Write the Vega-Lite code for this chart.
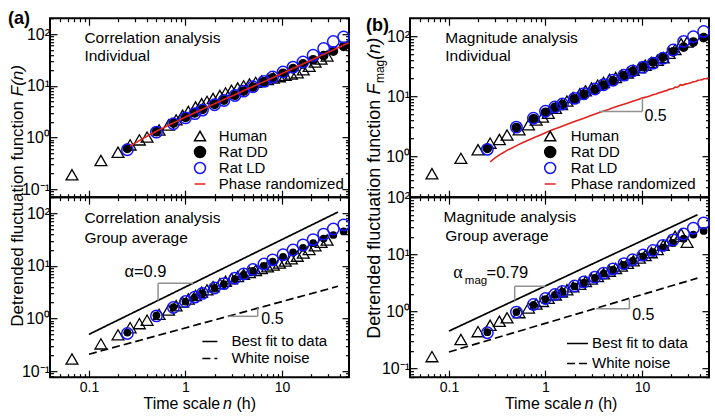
{
"$schema": "https://vega.github.io/schema/vega-lite/v6.json",
"background": "white",
"padding": {"left": 6, "top": 8.2, "right": 5, "bottom": 3},
"config": {
  "font": "Liberation Sans",
  "view": {"stroke": "black", "strokeWidth": 2},
  "axis": {"domain": false, "grid": false, "labelFont": "Liberation Sans", "labelColor": "black", "tickColor": "black", "tickWidth": 1.2, "titleFont": "Liberation Sans", "titleColor": "black", "titleFontWeight": "normal", "labelFlush": false, "labelOverlap": false, "labelBound": false},
  "axisX": {"labelFontSize": 14},
  "axisY": {"labelFontSize": 16},
  "legend": {"labelFont": "Liberation Sans", "labelColor": "black", "labelFontSize": 15, "padding": 0},
  "title": {"font": "Liberation Sans", "fontSize": 18, "fontWeight": "bold", "color": "black", "anchor": "start", "frame": "bounds"}
},
"datasets": {
"at": [
{"series":"Human","x":0.0667,"y":0.19},{"series":"Human","x":0.133,"y":0.36},{"series":"Human","x":0.2,"y":0.52},{"series":"Human","x":0.267,"y":0.72},{"series":"Human","x":0.333,"y":0.9},{"series":"Human","x":0.4,"y":1.02},{"series":"Human","x":0.533,"y":1.4},{"series":"Human","x":0.667,"y":1.75},{"series":"Human","x":0.8,"y":2.2},{"series":"Human","x":0.933,"y":2.7},{"series":"Human","x":1.07,"y":3.2},{"series":"Human","x":1.27,"y":3.9},{"series":"Human","x":1.47,"y":4.5},{"series":"Human","x":1.67,"y":5.0},{"series":"Human","x":1.93,"y":5.7},{"series":"Human","x":2.27,"y":6.5},{"series":"Human","x":2.6,"y":7.3},{"series":"Human","x":3.0,"y":8.2},{"series":"Human","x":3.47,"y":9.1},{"series":"Human","x":4.0,"y":10.0},{"series":"Human","x":4.6,"y":10.9},{"series":"Human","x":5.33,"y":11.7},{"series":"Human","x":6.13,"y":12.5},{"series":"Human","x":7.07,"y":13.3},{"series":"Human","x":8.13,"y":14.2},{"series":"Human","x":9.4,"y":15.1},{"series":"Human","x":10.8,"y":16},{"series":"Human","x":12.5,"y":17},{"series":"Human","x":14.4,"y":18},{"series":"Human","x":16.6,"y":20.5},{"series":"Human","x":19.1,"y":24},{"series":"Human","x":22,"y":29},{"series":"Human","x":25.4,"y":33},{"series":"Human","x":29.3,"y":38},
{"series":"Rat DD","x":0.25,"y":0.62},{"series":"Rat DD","x":0.5,"y":1.3},{"series":"Rat DD","x":0.75,"y":1.9},{"series":"Rat DD","x":1,"y":2.45},{"series":"Rat DD","x":1.25,"y":3.0},{"series":"Rat DD","x":1.5,"y":3.5},{"series":"Rat DD","x":2,"y":4.4},{"series":"Rat DD","x":2.5,"y":5.3},{"series":"Rat DD","x":3.25,"y":6.6},{"series":"Rat DD","x":4,"y":7.9},{"series":"Rat DD","x":5,"y":9.5},{"series":"Rat DD","x":6.5,"y":12},{"series":"Rat DD","x":8,"y":14.2},{"series":"Rat DD","x":10.25,"y":17.5},{"series":"Rat DD","x":13,"y":21.5},{"series":"Rat DD","x":16.5,"y":26.5},{"series":"Rat DD","x":21,"y":32},{"series":"Rat DD","x":27,"y":38.5},{"series":"Rat DD","x":34,"y":47},{"series":"Rat DD","x":43.5,"y":58},
{"series":"Rat LD","x":0.25,"y":0.58},{"series":"Rat LD","x":0.5,"y":1.27},{"series":"Rat LD","x":0.75,"y":1.85},{"series":"Rat LD","x":1,"y":2.4},{"series":"Rat LD","x":1.25,"y":2.9},{"series":"Rat LD","x":1.5,"y":3.4},{"series":"Rat LD","x":2,"y":4.3},{"series":"Rat LD","x":2.5,"y":5.2},{"series":"Rat LD","x":3.25,"y":6.5},{"series":"Rat LD","x":4,"y":7.9},{"series":"Rat LD","x":5,"y":9.6},{"series":"Rat LD","x":6.5,"y":12.2},{"series":"Rat LD","x":8,"y":14.8},{"series":"Rat LD","x":10.25,"y":18.5},{"series":"Rat LD","x":13,"y":23},{"series":"Rat LD","x":16.5,"y":29},{"series":"Rat LD","x":21,"y":39},{"series":"Rat LD","x":27,"y":53},{"series":"Rat LD","x":34,"y":72},{"series":"Rat LD","x":43.5,"y":88},
{"series":"Phase randomized","x":0.267,"y":0.68},{"series":"Phase randomized","x":0.3,"y":0.78},{"series":"Phase randomized","x":0.35,"y":0.92},{"series":"Phase randomized","x":0.4,"y":1.06},{"series":"Phase randomized","x":0.5,"y":1.32},{"series":"Phase randomized","x":0.6,"y":1.57},{"series":"Phase randomized","x":0.7,"y":1.8},{"series":"Phase randomized","x":0.8,"y":2.03},{"series":"Phase randomized","x":1.0,"y":2.5},{"series":"Phase randomized","x":1.2,"y":2.93},{"series":"Phase randomized","x":1.4,"y":3.35},{"series":"Phase randomized","x":1.7,"y":3.95},{"series":"Phase randomized","x":2.0,"y":4.5},{"series":"Phase randomized","x":2.5,"y":5.45},{"series":"Phase randomized","x":3.0,"y":6.3},{"series":"Phase randomized","x":3.5,"y":7.2},{"series":"Phase randomized","x":4.0,"y":8.05},{"series":"Phase randomized","x":5.0,"y":9.7},{"series":"Phase randomized","x":6.0,"y":11.3},{"series":"Phase randomized","x":7.0,"y":12.8},{"series":"Phase randomized","x":8.0,"y":14.4},{"series":"Phase randomized","x":9.0,"y":15.9},{"series":"Phase randomized","x":10,"y":17.4},{"series":"Phase randomized","x":12,"y":20.3},{"series":"Phase randomized","x":14,"y":23.2},{"series":"Phase randomized","x":16,"y":26},{"series":"Phase randomized","x":18,"y":28.6},{"series":"Phase randomized","x":20,"y":31.4},{"series":"Phase randomized","x":23,"y":35.4},{"series":"Phase randomized","x":26,"y":39.4},{"series":"Phase randomized","x":30,"y":44.5},{"series":"Phase randomized","x":35,"y":50.7},{"series":"Phase randomized","x":40,"y":57},{"series":"Phase randomized","x":45,"y":63},{"series":"Phase randomized","x":49,"y":68},
{"series":"txt","x":0.0898,"y":68,"text":"Correlation analysis"},{"series":"txt","x":0.0898,"y":30,"text":"Individual"}
],
"ab": [
{"series":"Human","x":0.0667,"y":0.17},{"series":"Human","x":0.133,"y":0.33},{"series":"Human","x":0.2,"y":0.49},{"series":"Human","x":0.267,"y":0.67},{"series":"Human","x":0.333,"y":0.8},{"series":"Human","x":0.4,"y":0.93},{"series":"Human","x":0.533,"y":1.2},{"series":"Human","x":0.667,"y":1.45},{"series":"Human","x":0.8,"y":1.75},{"series":"Human","x":0.933,"y":2.05},{"series":"Human","x":1.07,"y":2.35},{"series":"Human","x":1.27,"y":2.75},{"series":"Human","x":1.47,"y":3.15},{"series":"Human","x":1.67,"y":3.5},{"series":"Human","x":1.93,"y":4.0},{"series":"Human","x":2.27,"y":4.6},{"series":"Human","x":2.6,"y":5.1},{"series":"Human","x":3.0,"y":5.7},{"series":"Human","x":3.47,"y":6.3},{"series":"Human","x":4.0,"y":6.9},{"series":"Human","x":4.6,"y":7.5},{"series":"Human","x":5.33,"y":8.2},{"series":"Human","x":6.13,"y":8.9},{"series":"Human","x":7.07,"y":9.6},{"series":"Human","x":8.13,"y":10.4},{"series":"Human","x":9.4,"y":11.3},{"series":"Human","x":10.8,"y":12.3},{"series":"Human","x":12.5,"y":13.6},{"series":"Human","x":14.4,"y":15.3},{"series":"Human","x":16.6,"y":17.5},{"series":"Human","x":19.1,"y":20.5},{"series":"Human","x":22,"y":24},{"series":"Human","x":25.4,"y":28},{"series":"Human","x":29.3,"y":31},
{"series":"Rat DD","x":0.25,"y":0.54},{"series":"Rat DD","x":0.5,"y":1.15},{"series":"Rat DD","x":0.75,"y":1.65},{"series":"Rat DD","x":1,"y":2.1},{"series":"Rat DD","x":1.25,"y":2.55},{"series":"Rat DD","x":1.5,"y":3.0},{"series":"Rat DD","x":2,"y":3.8},{"series":"Rat DD","x":2.5,"y":4.5},{"series":"Rat DD","x":3.25,"y":5.6},{"series":"Rat DD","x":4,"y":6.7},{"series":"Rat DD","x":5,"y":8},{"series":"Rat DD","x":6.5,"y":10},{"series":"Rat DD","x":8,"y":12},{"series":"Rat DD","x":10.25,"y":14.8},{"series":"Rat DD","x":13,"y":18},{"series":"Rat DD","x":16.5,"y":22},{"series":"Rat DD","x":21,"y":27},{"series":"Rat DD","x":27,"y":33},{"series":"Rat DD","x":34,"y":38.5},{"series":"Rat DD","x":43.5,"y":45},
{"series":"Rat LD","x":0.25,"y":0.52},{"series":"Rat LD","x":0.5,"y":1.12},{"series":"Rat LD","x":0.75,"y":1.62},{"series":"Rat LD","x":1,"y":2.1},{"series":"Rat LD","x":1.25,"y":2.55},{"series":"Rat LD","x":1.5,"y":3.0},{"series":"Rat LD","x":2,"y":3.8},{"series":"Rat LD","x":2.5,"y":4.6},{"series":"Rat LD","x":3.25,"y":5.8},{"series":"Rat LD","x":4,"y":7.0},{"series":"Rat LD","x":5,"y":8.5},{"series":"Rat LD","x":6.5,"y":10.8},{"series":"Rat LD","x":8,"y":13},{"series":"Rat LD","x":10.25,"y":16.2},{"series":"Rat LD","x":13,"y":20},{"series":"Rat LD","x":16.5,"y":25},{"series":"Rat LD","x":21,"y":31.5},{"series":"Rat LD","x":27,"y":40},{"series":"Rat LD","x":34,"y":50},{"series":"Rat LD","x":43.5,"y":60},
{"series":"Best fit to data","x":0.1,"y":0.5},{"series":"Best fit to data","x":38,"y":105},
{"series":"White noise","x":0.1,"y":0.21},{"series":"White noise","x":38,"y":4.09},
{"series":"slope","x":0.52,"x2":1.2,"y":4.65,"y2":4.65},{"series":"slope","x":0.52,"x2":0.52,"y":2.2,"y2":4.65},
{"series":"slope","x":2.77,"x2":5.6,"y":1.1,"y2":1.1},{"series":"slope","x":5.6,"x2":5.6,"y":1.1,"y2":1.57},
{"series":"txt","x":0.0898,"y":65.4,"text":"Correlation analysis"},{"series":"txt","x":0.0898,"y":27.3,"text":"Group average"},
{"series":"stxt","x":6.1,"y":0.97,"text":"0.5"},
{"series":"atxt","x":0.233,"y":7.66,"text":"α=0.9"}
],
"bt": [
{"series":"Human","x":0.0667,"y":0.51},{"series":"Human","x":0.133,"y":0.92},{"series":"Human","x":0.2,"y":1.28},{"series":"Human","x":0.267,"y":1.65},{"series":"Human","x":0.333,"y":1.9},{"series":"Human","x":0.4,"y":2.25},{"series":"Human","x":0.533,"y":2.75},{"series":"Human","x":0.667,"y":3.35},{"series":"Human","x":0.8,"y":4.0},{"series":"Human","x":0.933,"y":4.5},{"series":"Human","x":1.07,"y":5.2},{"series":"Human","x":1.27,"y":6.3},{"series":"Human","x":1.47,"y":7.3},{"series":"Human","x":1.67,"y":8.3},{"series":"Human","x":1.93,"y":9.5},{"series":"Human","x":2.27,"y":11},{"series":"Human","x":2.6,"y":12.3},{"series":"Human","x":3.0,"y":13.8},{"series":"Human","x":3.47,"y":15.3},{"series":"Human","x":4.0,"y":17},{"series":"Human","x":4.6,"y":19},{"series":"Human","x":5.33,"y":20.5},{"series":"Human","x":6.13,"y":22.5},{"series":"Human","x":7.07,"y":24.5},{"series":"Human","x":8.13,"y":27},{"series":"Human","x":9.4,"y":30},{"series":"Human","x":10.8,"y":33},{"series":"Human","x":12.5,"y":36.5},{"series":"Human","x":14.4,"y":40},{"series":"Human","x":16.6,"y":44},{"series":"Human","x":19.1,"y":52},{"series":"Human","x":22,"y":60},{"series":"Human","x":25.4,"y":75},{"series":"Human","x":29.3,"y":80},
{"series":"Rat DD","x":0.25,"y":1.35},{"series":"Rat DD","x":0.5,"y":3.0},{"series":"Rat DD","x":0.75,"y":4.2},{"series":"Rat DD","x":1,"y":5.4},{"series":"Rat DD","x":1.25,"y":6.5},{"series":"Rat DD","x":1.5,"y":7.3},{"series":"Rat DD","x":2,"y":9.0},{"series":"Rat DD","x":2.5,"y":10.8},{"series":"Rat DD","x":3.25,"y":13},{"series":"Rat DD","x":4,"y":15.3},{"series":"Rat DD","x":5,"y":18},{"series":"Rat DD","x":6.5,"y":22},{"series":"Rat DD","x":8,"y":26},{"series":"Rat DD","x":10.25,"y":31},{"series":"Rat DD","x":13,"y":37},{"series":"Rat DD","x":16.5,"y":45},{"series":"Rat DD","x":21,"y":55},{"series":"Rat DD","x":27,"y":66},{"series":"Rat DD","x":34,"y":80},{"series":"Rat DD","x":43.5,"y":95},
{"series":"Rat LD","x":0.25,"y":1.3},{"series":"Rat LD","x":0.5,"y":3.05},{"series":"Rat LD","x":0.75,"y":4.3},{"series":"Rat LD","x":1,"y":5.6},{"series":"Rat LD","x":1.25,"y":6.6},{"series":"Rat LD","x":1.5,"y":7.4},{"series":"Rat LD","x":2,"y":9.2},{"series":"Rat LD","x":2.5,"y":11},{"series":"Rat LD","x":3.25,"y":13.2},{"series":"Rat LD","x":4,"y":15.5},{"series":"Rat LD","x":5,"y":18.5},{"series":"Rat LD","x":6.5,"y":22.5},{"series":"Rat LD","x":8,"y":26.5},{"series":"Rat LD","x":10.25,"y":30.5},{"series":"Rat LD","x":13,"y":35.5},{"series":"Rat LD","x":16.5,"y":43},{"series":"Rat LD","x":21,"y":59},{"series":"Rat LD","x":27,"y":82},{"series":"Rat LD","x":34,"y":98},{"series":"Rat LD","x":43.5,"y":120},
{"series":"Phase randomized","x":0.267,"y":0.8},{"series":"Phase randomized","x":0.3,"y":0.94},{"series":"Phase randomized","x":0.35,"y":1.1},{"series":"Phase randomized","x":0.4,"y":1.25},{"series":"Phase randomized","x":0.45,"y":1.37},{"series":"Phase randomized","x":0.5,"y":1.5},{"series":"Phase randomized","x":0.6,"y":1.72},{"series":"Phase randomized","x":0.7,"y":1.92},{"series":"Phase randomized","x":0.8,"y":2.1},{"series":"Phase randomized","x":0.9,"y":2.28},{"series":"Phase randomized","x":1.0,"y":2.45},{"series":"Phase randomized","x":1.2,"y":2.78},{"series":"Phase randomized","x":1.4,"y":3.05},{"series":"Phase randomized","x":1.7,"y":3.45},{"series":"Phase randomized","x":2.0,"y":3.8},{"series":"Phase randomized","x":2.5,"y":4.3},{"series":"Phase randomized","x":3.0,"y":4.8},{"series":"Phase randomized","x":3.5,"y":5.25},{"series":"Phase randomized","x":4.0,"y":5.65},{"series":"Phase randomized","x":4.5,"y":6.0},{"series":"Phase randomized","x":5.0,"y":6.4},{"series":"Phase randomized","x":6.0,"y":7.05},{"series":"Phase randomized","x":7.0,"y":7.65},{"series":"Phase randomized","x":8.0,"y":8.25},{"series":"Phase randomized","x":9.0,"y":8.75},{"series":"Phase randomized","x":10,"y":9.3},{"series":"Phase randomized","x":11,"y":9.65},{"series":"Phase randomized","x":12,"y":10.1},{"series":"Phase randomized","x":13,"y":10.6},{"series":"Phase randomized","x":14,"y":10.9},{"series":"Phase randomized","x":15,"y":11.4},{"series":"Phase randomized","x":16,"y":11.7},{"series":"Phase randomized","x":17,"y":12.2},{"series":"Phase randomized","x":18,"y":12.4},{"series":"Phase randomized","x":19,"y":13.0},{"series":"Phase randomized","x":20,"y":13.2},{"series":"Phase randomized","x":21,"y":13.4},{"series":"Phase randomized","x":22,"y":14.2},{"series":"Phase randomized","x":23,"y":14.0},{"series":"Phase randomized","x":24,"y":14.6},{"series":"Phase randomized","x":25,"y":15.6},{"series":"Phase randomized","x":26,"y":15.2},{"series":"Phase randomized","x":28,"y":15.9},{"series":"Phase randomized","x":30,"y":16.3},{"series":"Phase randomized","x":32,"y":16.8},{"series":"Phase randomized","x":34,"y":17.4},{"series":"Phase randomized","x":36,"y":17.6},{"series":"Phase randomized","x":38,"y":18.5},{"series":"Phase randomized","x":40,"y":18.6},{"series":"Phase randomized","x":42,"y":18.9},{"series":"Phase randomized","x":44,"y":19.6},{"series":"Phase randomized","x":46,"y":19.7},{"series":"Phase randomized","x":49,"y":20},
{"series":"slope","x":3.6,"x2":10.1,"y":5.56,"y2":5.56},{"series":"slope","x":10.1,"x2":10.1,"y":5.56,"y2":9.3},
{"series":"stxt","x":10.6,"y":4.65,"text":"0.5"},
{"series":"txt","x":0.0916,"y":77,"text":"Magnitude analysis"},{"series":"txt","x":0.0916,"y":38.3,"text":"Individual"}
],
"bb": [
{"series":"Human","x":0.0667,"y":0.16},{"series":"Human","x":0.133,"y":0.32},{"series":"Human","x":0.2,"y":0.44},{"series":"Human","x":0.267,"y":0.57},{"series":"Human","x":0.333,"y":0.67},{"series":"Human","x":0.4,"y":0.77},{"series":"Human","x":0.533,"y":0.95},{"series":"Human","x":0.667,"y":1.15},{"series":"Human","x":0.8,"y":1.35},{"series":"Human","x":0.933,"y":1.5},{"series":"Human","x":1.07,"y":1.7},{"series":"Human","x":1.27,"y":1.95},{"series":"Human","x":1.47,"y":2.2},{"series":"Human","x":1.67,"y":2.4},{"series":"Human","x":1.93,"y":2.7},{"series":"Human","x":2.27,"y":3.0},{"series":"Human","x":2.6,"y":3.35},{"series":"Human","x":3.0,"y":3.7},{"series":"Human","x":3.47,"y":4.1},{"series":"Human","x":4.0,"y":4.6},{"series":"Human","x":4.6,"y":5.1},{"series":"Human","x":5.33,"y":5.7},{"series":"Human","x":6.13,"y":6.3},{"series":"Human","x":7.07,"y":7.0},{"series":"Human","x":8.13,"y":7.8},{"series":"Human","x":9.4,"y":8.7},{"series":"Human","x":10.8,"y":9.6},{"series":"Human","x":12.5,"y":10.8},{"series":"Human","x":14.4,"y":12.3},{"series":"Human","x":16.6,"y":14.5},{"series":"Human","x":19.1,"y":17.5},{"series":"Human","x":22,"y":21},{"series":"Human","x":25.4,"y":23},{"series":"Human","x":29.3,"y":16.5},
{"series":"Rat DD","x":0.25,"y":0.43},{"series":"Rat DD","x":0.5,"y":0.97},{"series":"Rat DD","x":0.75,"y":1.3},{"series":"Rat DD","x":1,"y":1.65},{"series":"Rat DD","x":1.25,"y":1.95},{"series":"Rat DD","x":1.5,"y":2.2},{"series":"Rat DD","x":2,"y":2.75},{"series":"Rat DD","x":2.5,"y":3.2},{"series":"Rat DD","x":3.25,"y":3.9},{"series":"Rat DD","x":4,"y":4.6},{"series":"Rat DD","x":5,"y":5.4},{"series":"Rat DD","x":6.5,"y":6.6},{"series":"Rat DD","x":8,"y":7.7},{"series":"Rat DD","x":10.25,"y":9.3},{"series":"Rat DD","x":13,"y":11},{"series":"Rat DD","x":16.5,"y":13.2},{"series":"Rat DD","x":21,"y":16},{"series":"Rat DD","x":27,"y":19},{"series":"Rat DD","x":34,"y":22.5},{"series":"Rat DD","x":43.5,"y":26},
{"series":"Rat LD","x":0.25,"y":0.42},{"series":"Rat LD","x":0.5,"y":0.97},{"series":"Rat LD","x":0.75,"y":1.32},{"series":"Rat LD","x":1,"y":1.68},{"series":"Rat LD","x":1.25,"y":1.98},{"series":"Rat LD","x":1.5,"y":2.25},{"series":"Rat LD","x":2,"y":2.8},{"series":"Rat LD","x":2.5,"y":3.3},{"series":"Rat LD","x":3.25,"y":4.0},{"series":"Rat LD","x":4,"y":4.7},{"series":"Rat LD","x":5,"y":5.6},{"series":"Rat LD","x":6.5,"y":6.9},{"series":"Rat LD","x":8,"y":8.1},{"series":"Rat LD","x":10.25,"y":9.8},{"series":"Rat LD","x":13,"y":11.8},{"series":"Rat LD","x":16.5,"y":14.5},{"series":"Rat LD","x":21,"y":18},{"series":"Rat LD","x":27,"y":23},{"series":"Rat LD","x":34,"y":29},{"series":"Rat LD","x":43.5,"y":36},
{"series":"Best fit to data","x":0.1,"y":0.45},{"series":"Best fit to data","x":37.5,"y":50},
{"series":"White noise","x":0.1,"y":0.193},{"series":"White noise","x":37.5,"y":3.84},
{"series":"slope","x":0.48,"x2":1.0,"y":2.77,"y2":2.77},{"series":"slope","x":0.48,"x2":0.48,"y":1.55,"y2":2.77},
{"series":"slope","x":3.35,"x2":7.4,"y":1.11,"y2":1.11},{"series":"slope","x":7.4,"x2":7.4,"y":1.11,"y2":1.66},
{"series":"txt","x":0.088,"y":37.4,"text":"Magnitude analysis"},{"series":"txt","x":0.0916,"y":17.1,"text":"Group average"},
{"series":"stxt","x":7.9,"y":0.88,"text":"0.5"},
{"series":"alpha","x":0.1107,"y":4.74,"text":"α"},
{"series":"amag","x":0.146,"y":3.39,"text":"mag"},
{"series":"aeq","x":0.245,"y":4.74,"text":"=0.79"}
]
},
"columns": 2,
"bounds": "flush",
"spacing": {"row": -5.5, "column": 61},
"resolve": {"scale": {"stroke": "independent", "strokeDash": "independent", "shape": "independent", "fill": "independent"}, "legend": {"stroke": "independent", "strokeDash": "independent", "shape": "independent", "fill": "independent"}},
"concat": [
{
 "width": 299, "height": 179,
 "title": {"text": "(a)", "offset": -17},
 "data": {"name": "at"},
 "encoding": {
   "x": {"field": "x", "type": "quantitative", "scale": {"type": "log", "domain": [0.0395, 49.4], "nice": false}, "axis": null},
   "y": {"field": "y", "type": "quantitative", "scale": {"type": "log", "domain": [0.07, 204], "nice": false}, "axis": null}
 },
 "layer": [
  {"transform": [{"filter": "datum.series === 'Human'"}],
   "mark": {"type": "point", "filled": true, "size": 140, "strokeWidth": 1.3, "opacity": 1},
   "encoding": {
     "x": {"field": "x", "type": "quantitative", "scale": {"type": "log", "domain": [0.0395, 49.4], "nice": false},
           "axis": {"orient": "bottom", "values": [0.05,0.06,0.07,0.08,0.09,0.1,0.2,0.3,0.4,0.5,0.6,0.7,0.8,0.9,1,2,3,4,5,6,7,8,9,10,20,30,40], "labels": false, "title": null,
                    "tickSize": {"condition": {"test": "datum.value == 0.1 || datum.value == 1 || datum.value == 10 || datum.value == 100", "value": -7}, "value": -3.5}}},
     "y": {"field": "y", "type": "quantitative", "scale": {"type": "log", "domain": [0.07, 204], "nice": false},
           "axis": {"orient": "left", "values": [0.08,0.09,0.1,0.2,0.3,0.4,0.5,0.6,0.7,0.8,0.9,1,2,3,4,5,6,7,8,9,10,20,30,40,50,60,70,80,90,100,200],
                    "labelExpr": "datum.value == 100 ? '10²' : datum.value == 10 ? '10¹' : datum.value == 1 ? '10⁰' : datum.value == 0.1 ? '10⁻¹' : ''",
                    "labelPadding": 7.5,
                    "tickSize": {"condition": {"test": "datum.value == 0.1 || datum.value == 1 || datum.value == 10 || datum.value == 100", "value": -7}, "value": -3.5},
                    "title": "F(n)", "titleFontStyle": "italic", "titleFontSize": 17, "titleAngle": 270, "titleAlign": "left", "titleBaseline": "alphabetic", "titleX": -28, "titleY": 77.5}},
     "stroke": {"field": "series", "type": "nominal",
                "scale": {"domain": ["Human", "Rat DD", "Rat LD", "Phase randomized"], "range": ["black", "black", "#1414ff", "#e4211c"]},
                "legend": {"orient": "none", "legendX": 142.5, "legendY": 110.3, "title": null, "labelOffset": 11.3, "rowPadding": -1.2, "symbolSize": 120, "symbolStrokeWidth": 1.5}},
     "shape": {"field": "series", "type": "nominal", "scale": {"domain": ["Human", "Rat DD", "Rat LD", "Phase randomized"], "range": ["triangle-up", "circle", "circle", "stroke"]}},
     "fill": {"field": "series", "type": "nominal", "scale": {"domain": ["Human", "Rat DD", "Rat LD", "Phase randomized"], "range": ["transparent", "black", "transparent", "transparent"]}}
   }},
  {"transform": [{"filter": "datum.series === 'Rat DD'"}],
   "mark": {"type": "point", "filled": true, "size": 60, "opacity": 1},
   "encoding": {
     "x": {"field": "x", "type": "quantitative", "scale": {"type": "log", "domain": [0.0395, 49.4], "nice": false},
           "axis": {"orient": "top", "values": [0.05,0.06,0.07,0.08,0.09,0.1,0.2,0.3,0.4,0.5,0.6,0.7,0.8,0.9,1,2,3,4,5,6,7,8,9,10,20,30,40], "labels": false, "title": null,
                    "tickSize": {"condition": {"test": "datum.value == 0.1 || datum.value == 1 || datum.value == 10 || datum.value == 100", "value": -7}, "value": -3.5}}},
     "y": {"field": "y", "type": "quantitative", "scale": {"type": "log", "domain": [0.07, 204], "nice": false},
           "axis": {"orient": "right", "values": [0.08,0.09,0.1,0.2,0.3,0.4,0.5,0.6,0.7,0.8,0.9,1,2,3,4,5,6,7,8,9,10,20,30,40,50,60,70,80,90,100,200], "labels": false, "title": null,
                    "tickSize": {"condition": {"test": "datum.value == 0.1 || datum.value == 1 || datum.value == 10 || datum.value == 100", "value": -7}, "value": -3.5}}},
     "stroke": {"field": "series", "type": "nominal", "scale": {"domain": ["Human", "Rat DD", "Rat LD", "Phase randomized"], "range": ["black", "black", "#1414ff", "#e4211c"]}},
     "shape": {"field": "series", "type": "nominal", "scale": {"domain": ["Human", "Rat DD", "Rat LD", "Phase randomized"], "range": ["triangle-up", "circle", "circle", "stroke"]}},
     "fill": {"field": "series", "type": "nominal", "scale": {"domain": ["Human", "Rat DD", "Rat LD", "Phase randomized"], "range": ["transparent", "black", "transparent", "transparent"]}}
   }},
  {"transform": [{"filter": "datum.series === 'Rat LD'"}],
   "mark": {"type": "point", "filled": true, "size": 130, "strokeWidth": 1.5, "opacity": 1},
   "encoding": {
     "stroke": {"field": "series", "type": "nominal", "scale": {"domain": ["Human", "Rat DD", "Rat LD", "Phase randomized"], "range": ["black", "black", "#1414ff", "#e4211c"]}},
     "shape": {"field": "series", "type": "nominal", "scale": {"domain": ["Human", "Rat DD", "Rat LD", "Phase randomized"], "range": ["triangle-up", "circle", "circle", "stroke"]}},
     "fill": {"field": "series", "type": "nominal", "scale": {"domain": ["Human", "Rat DD", "Rat LD", "Phase randomized"], "range": ["transparent", "black", "transparent", "transparent"]}}
   }},
  {"transform": [{"filter": "datum.series === 'Phase randomized'"}],
   "mark": {"type": "line", "strokeWidth": 1.6},
   "encoding": {"stroke": {"field": "series", "type": "nominal", "scale": {"domain": ["Human", "Rat DD", "Rat LD", "Phase randomized"], "range": ["black", "black", "#1414ff", "#e4211c"]}}}},
  {"transform": [{"filter": "datum.series === 'txt'"}],
   "mark": {"type": "text", "align": "left", "baseline": "alphabetic", "fontSize": 15.5, "font": "Liberation Sans", "color": "black"},
   "encoding": {"text": {"field": "text"}}}
 ],
 "resolve": {"axis": {"x": "independent", "y": "independent"}}
},
{
 "width": 299, "height": 179,
 "title": {"text": "(b)", "offset": -17},
 "data": {"name": "bt"},
 "encoding": {
   "x": {"field": "x", "type": "quantitative", "scale": {"type": "log", "domain": [0.0395, 49.4], "nice": false}, "axis": null},
   "y": {"field": "y", "type": "quantitative", "scale": {"type": "log", "domain": [0.207, 200], "nice": false}, "axis": null}
 },
 "layer": [
  {"transform": [{"filter": "datum.series === 'Human'"}],
   "mark": {"type": "point", "filled": true, "size": 140, "strokeWidth": 1.3, "opacity": 1},
   "encoding": {
     "x": {"field": "x", "type": "quantitative", "scale": {"type": "log", "domain": [0.0395, 49.4], "nice": false},
           "axis": {"orient": "bottom", "values": [0.05,0.06,0.07,0.08,0.09,0.1,0.2,0.3,0.4,0.5,0.6,0.7,0.8,0.9,1,2,3,4,5,6,7,8,9,10,20,30,40], "labels": false, "title": null,
                    "tickSize": {"condition": {"test": "datum.value == 0.1 || datum.value == 1 || datum.value == 10 || datum.value == 100", "value": -7}, "value": -3.5}}},
     "y": {"field": "y", "type": "quantitative", "scale": {"type": "log", "domain": [0.207, 200], "nice": false},
           "axis": {"orient": "left", "values": [0.3,0.4,0.5,0.6,0.7,0.8,0.9,1,2,3,4,5,6,7,8,9,10,20,30,40,50,60,70,80,90,100],
                    "labelExpr": "datum.value == 100 ? '10²' : datum.value == 10 ? '10¹' : datum.value == 1 ? '10⁰' : datum.value == 0.1 ? '10⁻¹' : ''",
                    "labelPadding": 7.5,
                    "tickSize": {"condition": {"test": "datum.value == 0.1 || datum.value == 1 || datum.value == 10 || datum.value == 100", "value": -7}, "value": -3.5},
                    "title": "F", "titleFontStyle": "italic", "titleFontSize": 18, "titleAngle": 270, "titleAlign": "left", "titleBaseline": "alphabetic", "titleX": -30, "titleY": 75.9}},
     "stroke": {"field": "series", "type": "nominal",
                "scale": {"domain": ["Human", "Rat DD", "Rat LD", "Phase randomized"], "range": ["black", "black", "#1414ff", "#e4211c"]},
                "legend": {"orient": "none", "legendX": 132.7, "legendY": 110.3, "title": null, "labelOffset": 13, "rowPadding": -1.2, "symbolSize": 120, "symbolStrokeWidth": 1.5}},
     "shape": {"field": "series", "type": "nominal", "scale": {"domain": ["Human", "Rat DD", "Rat LD", "Phase randomized"], "range": ["triangle-up", "circle", "circle", "stroke"]}},
     "fill": {"field": "series", "type": "nominal", "scale": {"domain": ["Human", "Rat DD", "Rat LD", "Phase randomized"], "range": ["transparent", "black", "transparent", "transparent"]}}
   }},
  {"transform": [{"filter": "datum.series === 'Rat DD'"}],
   "mark": {"type": "point", "filled": true, "size": 60, "opacity": 1},
   "encoding": {
     "x": {"field": "x", "type": "quantitative", "scale": {"type": "log", "domain": [0.0395, 49.4], "nice": false},
           "axis": {"orient": "top", "values": [0.05,0.06,0.07,0.08,0.09,0.1,0.2,0.3,0.4,0.5,0.6,0.7,0.8,0.9,1,2,3,4,5,6,7,8,9,10,20,30,40], "labels": false,
                    "tickSize": {"condition": {"test": "datum.value == 0.1 || datum.value == 1 || datum.value == 10 || datum.value == 100", "value": -7}, "value": -3.5},
                    "title": "(n)", "titleFontStyle": "italic", "titleFontSize": 18, "titleAngle": 270, "titleAlign": "left", "titleBaseline": "alphabetic", "titleX": -30, "titleY": 41}},
     "y": {"field": "y", "type": "quantitative", "scale": {"type": "log", "domain": [0.207, 200], "nice": false},
           "axis": {"orient": "right", "values": [0.3,0.4,0.5,0.6,0.7,0.8,0.9,1,2,3,4,5,6,7,8,9,10,20,30,40,50,60,70,80,90,100], "labels": false,
                    "tickSize": {"condition": {"test": "datum.value == 0.1 || datum.value == 1 || datum.value == 10 || datum.value == 100", "value": -7}, "value": -3.5},
                    "title": "mag", "titleFontSize": 12, "titleAngle": 270, "titleAlign": "left", "titleBaseline": "alphabetic", "titleX": -325, "titleY": 64.4}},
     "stroke": {"field": "series", "type": "nominal", "scale": {"domain": ["Human", "Rat DD", "Rat LD", "Phase randomized"], "range": ["black", "black", "#1414ff", "#e4211c"]}},
     "shape": {"field": "series", "type": "nominal", "scale": {"domain": ["Human", "Rat DD", "Rat LD", "Phase randomized"], "range": ["triangle-up", "circle", "circle", "stroke"]}},
     "fill": {"field": "series", "type": "nominal", "scale": {"domain": ["Human", "Rat DD", "Rat LD", "Phase randomized"], "range": ["transparent", "black", "transparent", "transparent"]}}
   }},
  {"transform": [{"filter": "datum.series === 'Rat LD'"}],
   "mark": {"type": "point", "filled": true, "size": 130, "strokeWidth": 1.5, "opacity": 1},
   "encoding": {
     "stroke": {"field": "series", "type": "nominal", "scale": {"domain": ["Human", "Rat DD", "Rat LD", "Phase randomized"], "range": ["black", "black", "#1414ff", "#e4211c"]}},
     "shape": {"field": "series", "type": "nominal", "scale": {"domain": ["Human", "Rat DD", "Rat LD", "Phase randomized"], "range": ["triangle-up", "circle", "circle", "stroke"]}},
     "fill": {"field": "series", "type": "nominal", "scale": {"domain": ["Human", "Rat DD", "Rat LD", "Phase randomized"], "range": ["transparent", "black", "transparent", "transparent"]}}
   }},
  {"transform": [{"filter": "datum.series === 'Phase randomized'"}],
   "mark": {"type": "line", "strokeWidth": 1.6},
   "encoding": {"stroke": {"field": "series", "type": "nominal", "scale": {"domain": ["Human", "Rat DD", "Rat LD", "Phase randomized"], "range": ["black", "black", "#1414ff", "#e4211c"]}}}},
  {"transform": [{"filter": "datum.series === 'slope'"}],
   "mark": {"type": "rule", "color": "#909090", "strokeWidth": 1.5},
   "encoding": {"x2": {"field": "x2"}, "y2": {"field": "y2"}}},
  {"transform": [{"filter": "datum.series === 'stxt'"}],
   "mark": {"type": "text", "align": "left", "baseline": "middle", "fontSize": 16, "font": "Liberation Sans", "color": "black"},
   "encoding": {"text": {"field": "text"}}},
  {"transform": [{"filter": "datum.series === 'txt'"}],
   "mark": {"type": "text", "align": "left", "baseline": "alphabetic", "fontSize": 15.5, "font": "Liberation Sans", "color": "black"},
   "encoding": {"text": {"field": "text"}}}
 ],
 "resolve": {"axis": {"x": "independent", "y": "independent"}}
},
{
 "width": 299, "height": 180,
 "data": {"name": "ab"},
 "encoding": {
   "x": {"field": "x", "type": "quantitative", "scale": {"type": "log", "domain": [0.0395, 49.4], "nice": false}, "axis": null},
   "y": {"field": "y", "type": "quantitative", "scale": {"type": "log", "domain": [0.0769, 201], "nice": false}, "axis": null}
 },
 "layer": [
  {"transform": [{"filter": "datum.series === 'Human'"}],
   "mark": {"type": "point", "shape": "triangle-up", "filled": false, "size": 140, "strokeWidth": 1.3, "opacity": 1, "color": "black"},
   "encoding": {
     "x": {"field": "x", "type": "quantitative", "scale": {"type": "log", "domain": [0.0395, 49.4], "nice": false},
           "axis": {"orient": "bottom", "values": [0.05,0.06,0.07,0.08,0.09,0.1,0.2,0.3,0.4,0.5,0.6,0.7,0.8,0.9,1,2,3,4,5,6,7,8,9,10,20,30,40],
                    "labelExpr": "datum.value == 0.1 ? '0.1' : datum.value == 1 ? '1' : datum.value == 10 ? '10' : ''", "labelPadding": 10,
                    "tickSize": {"condition": {"test": "datum.value == 0.1 || datum.value == 1 || datum.value == 10 || datum.value == 100", "value": -7}, "value": -3.5},
                    "title": "Time scale", "titleFontSize": 16, "titleAngle": 0, "titleAlign": "left", "titleBaseline": "alphabetic", "titleX": 93, "titleY": 31}},
     "y": {"field": "y", "type": "quantitative", "scale": {"type": "log", "domain": [0.0769, 201], "nice": false},
           "axis": {"orient": "left", "values": [0.08,0.09,0.1,0.2,0.3,0.4,0.5,0.6,0.7,0.8,0.9,1,2,3,4,5,6,7,8,9,10,20,30,40,50,60,70,80,90,100,200],
                    "labelExpr": "datum.value == 100 ? '10²' : datum.value == 10 ? '10¹' : datum.value == 1 ? '10⁰' : datum.value == 0.1 ? '10⁻¹' : ''",
                    "labelPadding": 7.5,
                    "tickSize": {"condition": {"test": "datum.value == 0.1 || datum.value == 1 || datum.value == 10 || datum.value == 100", "value": -7}, "value": -3.5},
                    "title": "Detrended fluctuation function", "titleFontSize": 17, "titleAngle": 270, "titleAlign": "left", "titleBaseline": "alphabetic", "titleX": -28, "titleY": 129}}
   }},
  {"transform": [{"filter": "datum.series === 'Rat DD'"}],
   "mark": {"type": "point", "shape": "circle", "filled": true, "color": "black", "size": 60, "opacity": 1},
   "encoding": {
     "x": {"field": "x", "type": "quantitative", "scale": {"type": "log", "domain": [0.0395, 49.4], "nice": false},
           "axis": {"orient": "top", "values": [0.05,0.06,0.07,0.08,0.09,0.1,0.2,0.3,0.4,0.5,0.6,0.7,0.8,0.9,1,2,3,4,5,6,7,8,9,10,20,30,40], "labels": false,
                    "tickSize": {"condition": {"test": "datum.value == 0.1 || datum.value == 1 || datum.value == 10 || datum.value == 100", "value": -7}, "value": -3.5},
                    "title": "n", "titleFontStyle": "italic", "titleFontSize": 16, "titleAngle": 0, "titleAlign": "left", "titleBaseline": "alphabetic", "titleX": 172.5, "titleY": 211}},
     "y": {"field": "y", "type": "quantitative", "scale": {"type": "log", "domain": [0.0769, 201], "nice": false},
           "axis": {"orient": "right", "values": [0.08,0.09,0.1,0.2,0.3,0.4,0.5,0.6,0.7,0.8,0.9,1,2,3,4,5,6,7,8,9,10,20,30,40,50,60,70,80,90,100,200], "labels": false,
                    "tickSize": {"condition": {"test": "datum.value == 0.1 || datum.value == 1 || datum.value == 10 || datum.value == 100", "value": -7}, "value": -3.5},
                    "title": "(h)", "titleFontSize": 16, "titleAngle": 0, "titleAlign": "left", "titleBaseline": "alphabetic", "titleX": -113, "titleY": 211}}
   }},
  {"transform": [{"filter": "datum.series === 'Rat LD'"}],
   "mark": {"type": "point", "shape": "circle", "filled": false, "size": 130, "strokeWidth": 1.5, "opacity": 1, "color": "#1414ff"}},
  {"transform": [{"filter": "datum.series === 'Best fit to data' || datum.series === 'White noise'"}],
   "mark": {"type": "line", "strokeWidth": 1.7, "color": "black"},
   "encoding": {"strokeDash": {"field": "series", "type": "nominal",
      "scale": {"domain": ["Best fit to data", "White noise"], "range": [[1, 0], [8, 4]]},
      "legend": {"orient": "none", "legendX": 151.4, "legendY": 135.8, "title": null, "symbolType": "stroke", "symbolSize": 169, "symbolStrokeWidth": 1.7, "symbolStrokeColor": "black", "labelOffset": 13, "rowPadding": -1.4,
                 "encode": {"symbols": {"update": {"size": {"value": 225}}}}}}}},
  {"transform": [{"filter": "datum.series === 'slope'"}],
   "mark": {"type": "rule", "color": "#909090", "strokeWidth": 1.5},
   "encoding": {"x2": {"field": "x2"}, "y2": {"field": "y2"}}},
  {"transform": [{"filter": "datum.series === 'stxt'"}],
   "mark": {"type": "text", "align": "left", "baseline": "middle", "fontSize": 16, "font": "Liberation Sans", "color": "black"},
   "encoding": {"text": {"field": "text"}}},
  {"transform": [{"filter": "datum.series === 'atxt'"}],
   "mark": {"type": "text", "align": "left", "baseline": "middle", "fontSize": 16.5, "font": "Liberation Sans", "color": "black"},
   "encoding": {"text": {"field": "text"}}},
  {"transform": [{"filter": "datum.series === 'txt'"}],
   "mark": {"type": "text", "align": "left", "baseline": "alphabetic", "fontSize": 15.5, "font": "Liberation Sans", "color": "black"},
   "encoding": {"text": {"field": "text"}}}
 ],
 "resolve": {"axis": {"x": "independent", "y": "independent"}}
},
{
 "width": 299, "height": 180,
 "data": {"name": "bb"},
 "encoding": {
   "x": {"field": "x", "type": "quantitative", "scale": {"type": "log", "domain": [0.0395, 49.4], "nice": false}, "axis": null},
   "y": {"field": "y", "type": "quantitative", "scale": {"type": "log", "domain": [0.0695, 102], "nice": false}, "axis": null}
 },
 "layer": [
  {"transform": [{"filter": "datum.series === 'Human'"}],
   "mark": {"type": "point", "shape": "triangle-up", "filled": false, "size": 140, "strokeWidth": 1.3, "opacity": 1, "color": "black"},
   "encoding": {
     "x": {"field": "x", "type": "quantitative", "scale": {"type": "log", "domain": [0.0395, 49.4], "nice": false},
           "axis": {"orient": "bottom", "values": [0.05,0.06,0.07,0.08,0.09,0.1,0.2,0.3,0.4,0.5,0.6,0.7,0.8,0.9,1,2,3,4,5,6,7,8,9,10,20,30,40],
                    "labelExpr": "datum.value == 0.1 ? '0.1' : datum.value == 1 ? '1' : datum.value == 10 ? '10' : ''", "labelPadding": 10,
                    "tickSize": {"condition": {"test": "datum.value == 0.1 || datum.value == 1 || datum.value == 10 || datum.value == 100", "value": -7}, "value": -3.5},
                    "title": "Time scale", "titleFontSize": 16, "titleAngle": 0, "titleAlign": "left", "titleBaseline": "alphabetic", "titleX": 94.4, "titleY": 31}},
     "y": {"field": "y", "type": "quantitative", "scale": {"type": "log", "domain": [0.0695, 102], "nice": false},
           "axis": {"orient": "left", "values": [0.07,0.08,0.09,0.1,0.2,0.3,0.4,0.5,0.6,0.7,0.8,0.9,1,2,3,4,5,6,7,8,9,10,20,30,40,50,60,70,80,90,100],
                    "labelExpr": "datum.value == 100 ? '10²' : datum.value == 10 ? '10¹' : datum.value == 1 ? '10⁰' : datum.value == 0.1 ? '10⁻¹' : ''",
                    "labelPadding": 7.5,
                    "tickSize": {"condition": {"test": "datum.value == 0.1 || datum.value == 1 || datum.value == 10 || datum.value == 100", "value": -7}, "value": -3.5},
                    "title": "Detrended fluctuation function", "titleFontSize": 18, "titleAngle": 270, "titleAlign": "left", "titleBaseline": "alphabetic", "titleX": -30, "titleY": 141}}
   }},
  {"transform": [{"filter": "datum.series === 'Rat DD'"}],
   "mark": {"type": "point", "shape": "circle", "filled": true, "color": "black", "size": 60, "opacity": 1},
   "encoding": {
     "x": {"field": "x", "type": "quantitative", "scale": {"type": "log", "domain": [0.0395, 49.4], "nice": false},
           "axis": {"orient": "top", "values": [0.05,0.06,0.07,0.08,0.09,0.1,0.2,0.3,0.4,0.5,0.6,0.7,0.8,0.9,1,2,3,4,5,6,7,8,9,10,20,30,40], "labels": false,
                    "tickSize": {"condition": {"test": "datum.value == 0.1 || datum.value == 1 || datum.value == 10 || datum.value == 100", "value": -7}, "value": -3.5},
                    "title": "n", "titleFontStyle": "italic", "titleFontSize": 16, "titleAngle": 0, "titleAlign": "left", "titleBaseline": "alphabetic", "titleX": 173.9, "titleY": 211}},
     "y": {"field": "y", "type": "quantitative", "scale": {"type": "log", "domain": [0.0695, 102], "nice": false},
           "axis": {"orient": "right", "values": [0.07,0.08,0.09,0.1,0.2,0.3,0.4,0.5,0.6,0.7,0.8,0.9,1,2,3,4,5,6,7,8,9,10,20,30,40,50,60,70,80,90,100], "labels": false,
                    "tickSize": {"condition": {"test": "datum.value == 0.1 || datum.value == 1 || datum.value == 10 || datum.value == 100", "value": -7}, "value": -3.5},
                    "title": "(h)", "titleFontSize": 16, "titleAngle": 0, "titleAlign": "left", "titleBaseline": "alphabetic", "titleX": -111.6, "titleY": 211}}
   }},
  {"transform": [{"filter": "datum.series === 'Rat LD'"}],
   "mark": {"type": "point", "shape": "circle", "filled": false, "size": 130, "strokeWidth": 1.5, "opacity": 1, "color": "#1414ff"}},
  {"transform": [{"filter": "datum.series === 'Best fit to data' || datum.series === 'White noise'"}],
   "mark": {"type": "line", "strokeWidth": 1.7, "color": "black"},
   "encoding": {"strokeDash": {"field": "series", "type": "nominal",
      "scale": {"domain": ["Best fit to data", "White noise"], "range": [[1, 0], [8, 4]]},
      "legend": {"orient": "none", "legendX": 156, "legendY": 134.8, "title": null, "symbolType": "stroke", "symbolSize": 169, "symbolStrokeWidth": 1.7, "symbolStrokeColor": "black", "labelOffset": 3, "rowPadding": -1.4,
                 "encode": {"symbols": {"update": {"size": {"value": 441}}}}}}}},
  {"transform": [{"filter": "datum.series === 'slope'"}],
   "mark": {"type": "rule", "color": "#909090", "strokeWidth": 1.5},
   "encoding": {"x2": {"field": "x2"}, "y2": {"field": "y2"}}},
  {"transform": [{"filter": "datum.series === 'stxt'"}],
   "mark": {"type": "text", "align": "left", "baseline": "middle", "fontSize": 16, "font": "Liberation Sans", "color": "black"},
   "encoding": {"text": {"field": "text"}}},
  {"transform": [{"filter": "datum.series === 'alpha'"}],
   "mark": {"type": "text", "align": "left", "baseline": "middle", "fontSize": 18, "font": "Liberation Serif", "color": "black"},
   "encoding": {"text": {"field": "text"}}},
  {"transform": [{"filter": "datum.series === 'amag'"}],
   "mark": {"type": "text", "align": "left", "baseline": "middle", "fontSize": 11.5, "font": "Liberation Sans", "color": "black"},
   "encoding": {"text": {"field": "text"}}},
  {"transform": [{"filter": "datum.series === 'aeq'"}],
   "mark": {"type": "text", "align": "left", "baseline": "middle", "fontSize": 16.5, "font": "Liberation Sans", "color": "black"},
   "encoding": {"text": {"field": "text"}}},
  {"transform": [{"filter": "datum.series === 'txt'"}],
   "mark": {"type": "text", "align": "left", "baseline": "alphabetic", "fontSize": 15.5, "font": "Liberation Sans", "color": "black"},
   "encoding": {"text": {"field": "text"}}}
 ],
 "resolve": {"axis": {"x": "independent", "y": "independent"}}
}
]
}
